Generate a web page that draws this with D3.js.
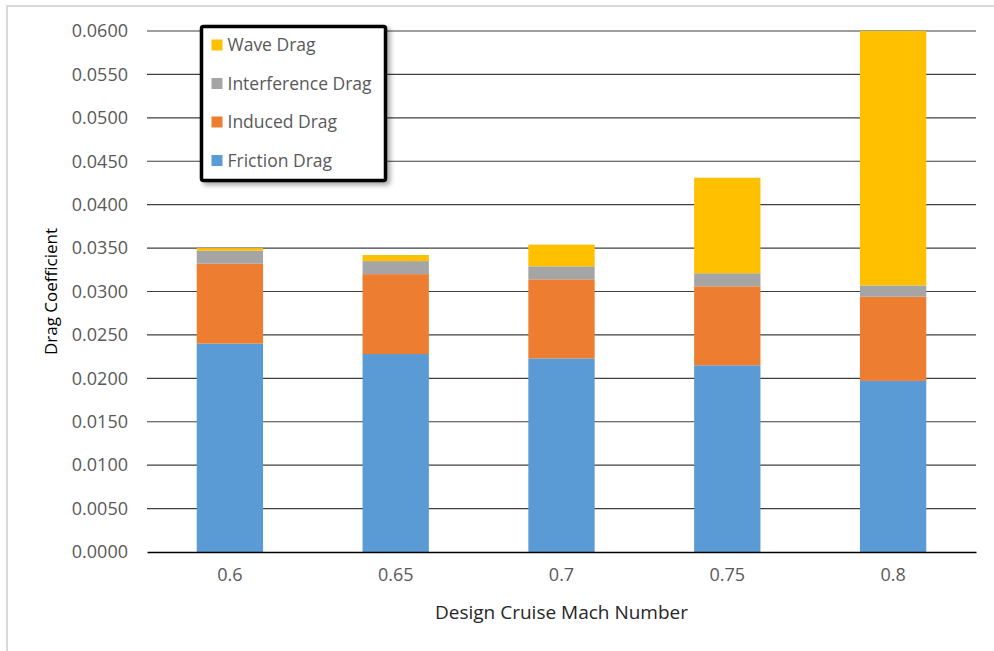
<!DOCTYPE html>
<html>
<head>
<meta charset="utf-8">
<script src="https://cdn.jsdelivr.net/npm/d3@7/dist/d3.min.js"></script>
<style>
  html, body { margin: 0; padding: 0; background: #fff; }
  svg { display: block; }
</style>
</head>
<body>
<script>
// Drag breakdown per design cruise Mach number (stacked bars).

const MACH = ["0.6", "0.65", "0.7", "0.75", "0.8"];
const FRICTION = [0.0240, 0.0228, 0.0223, 0.0215, 0.0197];
const INDUCED = [0.0092, 0.0092, 0.0091, 0.0091, 0.0097];
const INTERFERENCE = [0.0015, 0.0015, 0.0015, 0.0015, 0.0013];
const WAVE = [0.0003, 0.0007, 0.0025, 0.0110, 0.0293];

const SERIES = ["Friction Drag", "Induced Drag", "Interference Drag", "Wave Drag"];
const Y_TICKS = [0, 0.005, 0.01, 0.015, 0.02, 0.025, 0.03, 0.035, 0.04, 0.045, 0.05, 0.055, 0.06];

const COLORS = {
  "Friction Drag": "#5b9bd5",
  "Induced Drag": "#ed7d31",
  "Interference Drag": "#a5a5a5",
  "Wave Drag": "#ffc000"
};

const FONT = "'Open Sans', 'Noto Sans', sans-serif";
const TEXT = "#595959";

const width = 994;
const height = 651;
const margin = { top: 31, right: 18, bottom: 99, left: 147 };
const innerW = width - margin.left - margin.right;
const innerH = height - margin.top - margin.bottom;

// Rows for d3.stack
const rows = MACH.map((m, i) => ({
  mach: m,
  "Friction Drag": FRICTION[i],
  "Induced Drag": INDUCED[i],
  "Interference Drag": INTERFERENCE[i],
  "Wave Drag": WAVE[i]
}));

const svg = d3.select("body")
  .append("svg")
  .attr("width", width)
  .attr("height", height)
  .attr("font-family", FONT);

svg.append("rect").attr("width", width).attr("height", height).attr("fill", "#fff");

// Light outer frame of the chart area
svg.append("rect")
  .attr("x", 7).attr("y", 6)
  .attr("width", width - 6).attr("height", height)
  .attr("fill", "none")
  .attr("stroke", "#d9d9d9")
  .attr("stroke-width", 2);

const g = svg.append("g").attr("transform", `translate(${margin.left},${margin.top})`);

const x = d3.scaleBand().domain(MACH).range([0, innerW]).paddingInner(0.6).paddingOuter(0.3);
const y = d3.scaleLinear().domain([0, 0.06]).range([innerH, 0]);

// Gridlines
g.append("g")
  .selectAll("line")
  .data(Y_TICKS.slice(1))
  .join("line")
  .attr("x1", 0)
  .attr("x2", innerW)
  .attr("y1", (d) => y(d))
  .attr("y2", (d) => y(d))
  .attr("stroke", "#3f3f3f")
  .attr("stroke-width", 1.2);

// Y axis labels (no domain line, no ticks)
const yAxis = g.append("g")
  .call(d3.axisLeft(y).tickValues(Y_TICKS).tickFormat(d3.format(".4f")).tickSize(0).tickPadding(19));
yAxis.select(".domain").remove();
yAxis.selectAll("text")
  .attr("font-family", FONT)
  .attr("font-size", 18)
  .attr("fill", TEXT);

// Stacked bars
const stack = d3.stack().keys(SERIES)(rows);
g.append("g")
  .selectAll("g")
  .data(stack)
  .join("g")
  .attr("fill", (d) => COLORS[d.key])
  .selectAll("rect")
  .data((d) => d)
  .join("rect")
  .attr("x", (d) => x(d.data.mach))
  .attr("y", (d) => y(d[1]))
  .attr("width", x.bandwidth())
  .attr("height", (d) => y(d[0]) - y(d[1]));

// X axis
const xAxis = g.append("g")
  .attr("transform", `translate(0,${innerH})`)
  .call(d3.axisBottom(x).tickSize(0).tickPadding(16));
xAxis.select(".domain").attr("stroke", "#000").attr("stroke-width", 1.3);
xAxis.selectAll("text")
  .attr("font-family", FONT)
  .attr("font-size", 18)
  .attr("fill", TEXT);

// Axis titles
svg.append("text")
  .attr("x", margin.left + innerW / 2)
  .attr("y", 619)
  .attr("text-anchor", "middle")
  .attr("font-size", 19)
  .attr("fill", "#262626")
  .text("Design Cruise Mach Number");

svg.append("text")
  .attr("transform", `translate(57,${margin.top + innerH / 2}) rotate(-90)`)
  .attr("text-anchor", "middle")
  .attr("font-size", 17)
  .attr("fill", "#000")
  .text("Drag Coefficient");

// Legend with drop shadow
const defs = svg.append("defs");
const filter = defs.append("filter").attr("id", "shadow").attr("x", "-10%").attr("y", "-10%").attr("width", "130%").attr("height", "130%");
filter.append("feDropShadow")
  .attr("dx", 3).attr("dy", 3)
  .attr("stdDeviation", 2.5)
  .attr("flood-color", "#000")
  .attr("flood-opacity", 0.35);

const legend = svg.append("g").attr("transform", "translate(201.5,26.5)");
legend.append("rect")
  .attr("width", 184)
  .attr("height", 154)
  .attr("fill", "#fff")
  .attr("stroke", "#000")
  .attr("stroke-width", 3.5)
  .attr("rx", 2)
  .attr("filter", "url(#shadow)");

const legendOrder = SERIES.slice().reverse();
legendOrder.forEach((name, i) => {
  const ly = 18.5 + i * 38.5;
  legend.append("rect")
    .attr("x", 10).attr("y", ly - 5.5)
    .attr("width", 11).attr("height", 11)
    .attr("fill", COLORS[name]);
  legend.append("text")
    .attr("x", 26)
    .attr("y", ly)
    .attr("dy", "0.35em")
    .attr("font-size", 17.5)
    .attr("fill", TEXT)
    .text(name);
});
</script>
</body>
</html>
